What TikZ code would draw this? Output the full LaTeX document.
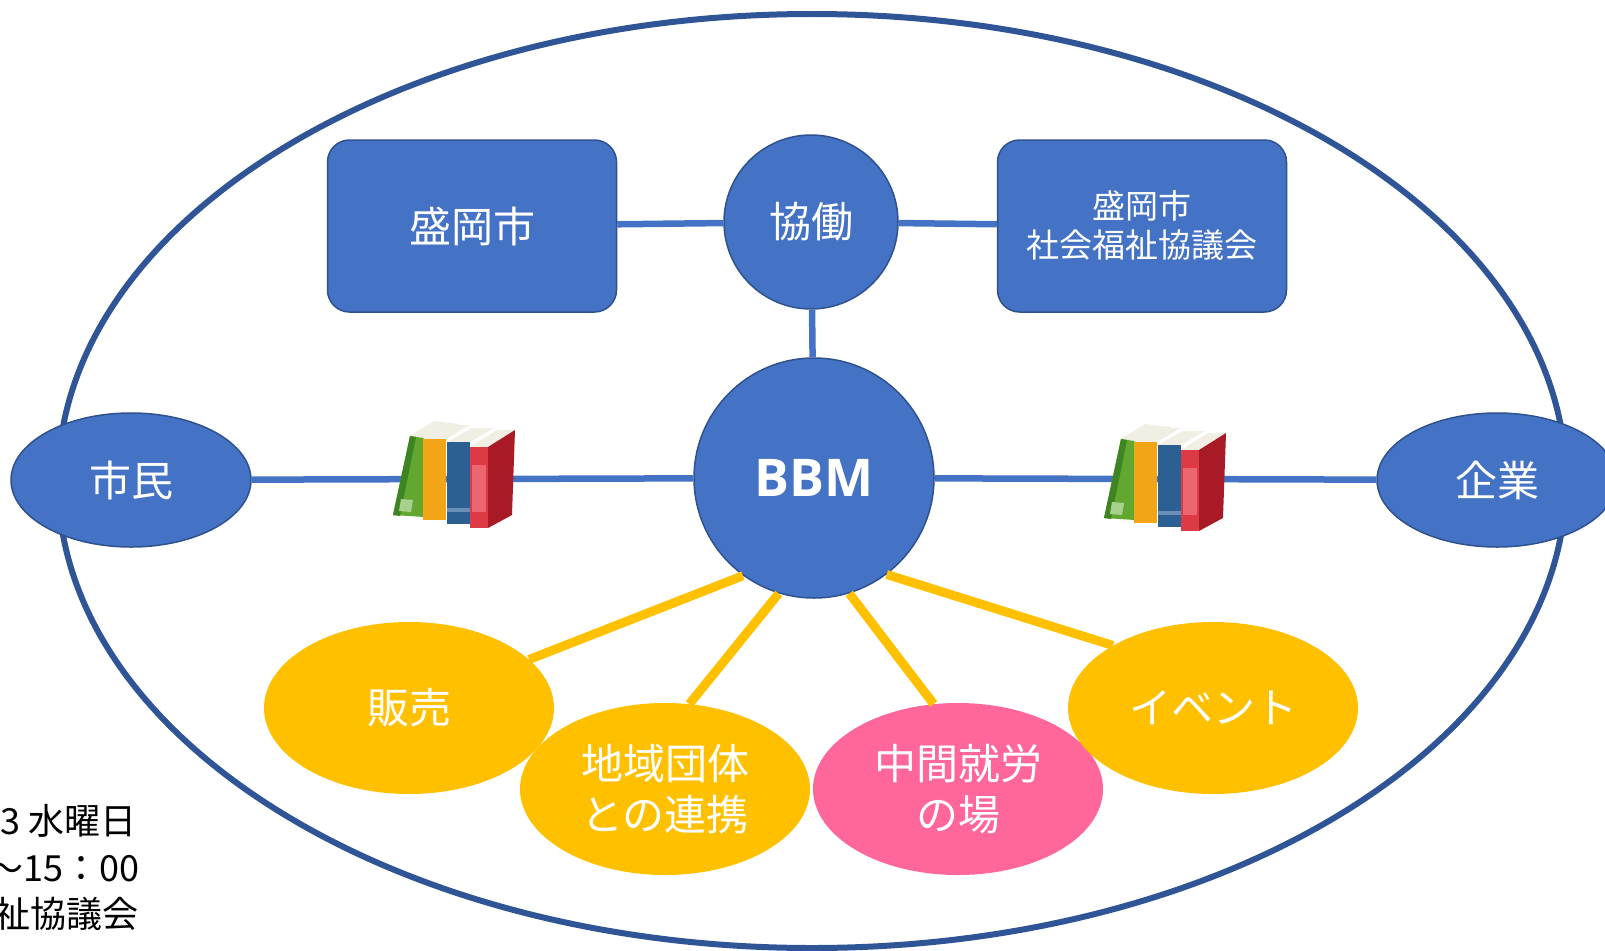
\documentclass[tikz,border=0pt]{standalone}
\usepackage{fontspec}
\setmainfont{Noto Sans CJK JP}
\newfontfamily\bbmfont{Open Sans}
\usetikzlibrary{shapes.geometric}

\definecolor{nodeblue}{HTML}{4472C4}
\definecolor{edgeblue}{HTML}{2F528F}
\definecolor{ringblue}{HTML}{2F5597}
\definecolor{gold}{HTML}{FFC000}
\definecolor{rosepink}{HTML}{FF6699}
\definecolor{bookgreen}{HTML}{62A830}
\definecolor{bookgreendark}{HTML}{3F8422}
\definecolor{booklabel}{HTML}{A9D18E}
\definecolor{bookorange}{HTML}{F2A516}
\definecolor{bookblue}{HTML}{2C5F92}
\definecolor{bookbluelight}{HTML}{6A8FB8}
\definecolor{bookred}{HTML}{DD3A46}
\definecolor{bookredlight}{HTML}{EC6670}
\definecolor{bookreddark}{HTML}{A81B26}
\definecolor{pagecream}{HTML}{F1EEE4}

% a row of four books, top-left corner at #1
\newcommand{\bookstack}[1]{%
  \begin{scope}[shift={#1}]
    % green one, leaning
    \fill[pagecream] (18,16) -- (45,20) -- (68,4) -- (42,1) -- cycle;
    \fill[bookgreen] (1,95) -- (32,97) -- (45,20) -- (18,16) -- cycle;
    \fill[bookgreendark] (1,95) -- (8,96) -- (24,17) -- (18,16) -- cycle;
    \fill[booklabel] (9,79) -- (21,80) -- (19,92) -- (7,91) -- cycle;
    % orange
    \fill[pagecream] (31,19) -- (54,19) -- (78,5) -- (56,5) -- cycle;
    \fill[bookorange] (31,19) rectangle (54,100);
    % blue
    \fill[pagecream] (55,22) -- (78,22) -- (102,8) -- (80,8) -- cycle;
    \fill[bookblue] (55,22) rectangle (78,104);
    \fill[bookbluelight] (55,88) rectangle (78,92);
    % red, with its front cover
    \fill[pagecream] (78,27) -- (96,27) -- (123,10) -- (105,10) -- cycle;
    \fill[bookred] (78,27) rectangle (96,108);
    \fill[bookredlight] (80,45) rectangle (94,92);
    \fill[bookreddark] (96,27) -- (123,10) -- (120,95) -- (96,108) -- cycle;
  \end{scope}}

\begin{document}
\begin{tikzpicture}[
    x=1pt, y=-1pt,
    bluebox/.style={rectangle, rounded corners=22pt, draw=edgeblue, line width=1.5pt, fill=nodeblue,
        text=white, minimum width=289pt, minimum height=172pt, align=center},
    bluecircle/.style={circle, draw=edgeblue, line width=1.5pt, fill=nodeblue, text=white, inner sep=0pt},
    blueoval/.style={ellipse, draw=edgeblue, line width=1.5pt, fill=nodeblue, text=white,
        minimum width=240pt, minimum height=134pt, inner sep=0pt},
    goldoval/.style={ellipse, fill=gold, text=white, minimum width=290pt, minimum height=172pt,
        inner sep=0pt, align=center},
    bigfont/.style={font=\fontsize{42}{51}\selectfont},
    bluelink/.style={nodeblue, line width=6.5pt},
    goldlink/.style={gold, line width=9pt},
    note/.style={anchor=east, inner sep=0pt, font=\fontsize{36}{44}\selectfont}
]
\useasboundingbox (0,0) rectangle (1605,950);

% outer ring
\draw[ringblue, line width=6pt] (812,481) ellipse [x radius=754pt, y radius=467pt];

% top row
\node[bluebox, bigfont] (city) at (472,226) {盛岡市};
\node[bluecircle, bigfont, minimum size=174pt] (kyodo) at (811,222) {協働};
\node[bluebox, font=\fontsize{33}{39}\selectfont] (council) at (1142,226) {盛岡市\\社会福祉協議会};

% middle row
\node[bluecircle, minimum size=240pt, font=\bbmfont\bfseries\fontsize{52}{60}\selectfont] (bbm) at (814,478) {BBM};
\node[blueoval, bigfont] (citizen) at (131,480) {市民};
\node[blueoval, bigfont] (company) at (1497,480) {企業};

% activities
\node[goldoval, bigfont] (sales) at (409,708) {販売};
\node[goldoval, bigfont] (groups) at (665,789) {地域団体\\との連携};
\node[goldoval, bigfont, fill=rosepink] (work) at (958,789) {中間就労\\の場};
\node[goldoval, bigfont] (event) at (1213,708) {イベント};

% blue links
\draw[bluelink] (city) -- (kyodo) -- (council);
\draw[bluelink] (kyodo) -- (bbm);
\draw[bluelink] (citizen) -- (bbm) -- (company);

% books sit on the links
\bookstack{(392,420)}
\bookstack{(1103,423)}

% gold links
\draw[goldlink] (bbm.234) -- (sales.22);
\draw[goldlink] (bbm.253) -- (groups.74);
\draw[goldlink] (bbm.287) -- (work.106);
\draw[goldlink] (bbm.307) -- (event.148);

% notes at the lower left
\node[note] (day) at (137,821) {3 水曜日};
\node[note] (time) at (140,869) {〜15：00};
\node[note] (host) at (139,914) {祉協議会};

\end{tikzpicture}
\end{document}
